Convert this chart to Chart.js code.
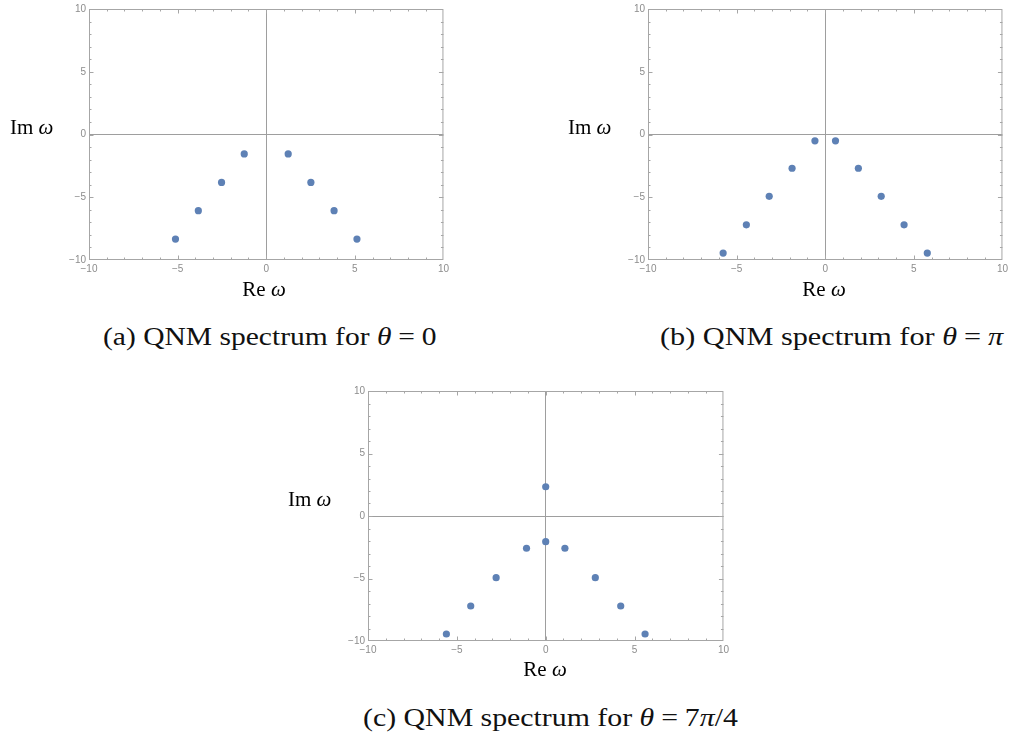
<!DOCTYPE html>
<html>
<head>
<meta charset="utf-8">
<script src="https://cdn.jsdelivr.net/npm/chart.js@4.4.1/dist/chart.umd.min.js"></script>
<style>
  html, body { margin: 0; padding: 0; background: #fff; }
  body { width: 1010px; height: 744px; position: relative; overflow: hidden; }
  .box { position: absolute; }
  .lbl { position: absolute; font-family: "Liberation Serif", serif; font-size: 21px; line-height: 21px; color: #000; white-space: nowrap; }
  .cap { position: absolute; font-family: "Liberation Serif", serif; font-size: 26px; line-height: 26px; color: #111; white-space: nowrap; transform-origin: 0 0; }
  .sp { display: inline-block; width: 6px; }
</style>
</head>
<body>

<div class="box" style="left:49px; top:0px; width:403px; height:280px;"><canvas id="qnmA"></canvas></div>
<div class="box" style="left:608px; top:0px; width:403px; height:280px;"><canvas id="qnmB"></canvas></div>
<div class="box" style="left:328px; top:382px; width:404px; height:279px;"><canvas id="qnmC"></canvas></div>

<div class="lbl" style="left:10px; top:117px;">Im <i>ω</i></div>
<div class="lbl" style="left:214px; top:279px; width:100px; text-align:center;">Re <i>ω</i></div>
<div class="lbl" style="left:568px; top:117px;">Im <i>ω</i></div>
<div class="lbl" style="left:774px; top:279px; width:100px; text-align:center;">Re <i>ω</i></div>
<div class="lbl" style="left:288px; top:489px;">Im <i>ω</i></div>
<div class="lbl" style="left:495px; top:659px; width:100px; text-align:center;">Re <i>ω</i></div>

<div class="cap" data-w="334" style="left:103px; top:324px;">(a) QNM spectrum for <i>θ</i><span class="sp"></span>=<span class="sp"></span>0</div>
<div class="cap" data-w="343" style="left:660px; top:324px;">(b) QNM spectrum for <i>θ</i><span class="sp"></span>=<span class="sp"></span><i>π</i></div>
<div class="cap" data-w="375" style="left:363px; top:705px;">(c) QNM spectrum for <i>θ</i><span class="sp"></span>=<span class="sp"></span>7<i>π</i>/4</div>

<script>
// QNM frequencies (Re ω, Im ω)
const reA = [-5.12, -3.83, -2.52, -1.24, 1.24, 2.52, 3.83, 5.12];
const imA = [-8.33, -6.07, -3.82, -1.55, -1.55, -3.82, -6.07, -8.33];

const reB = [-5.76, -4.45, -3.16, -1.87, -0.58, 0.58, 1.87, 3.16, 4.45, 5.76];
const imB = [-9.45, -7.20, -4.93, -2.69, -0.50, -0.50, -2.69, -4.93, -7.20, -9.45];

const reC = [-5.59, -4.22, -2.79, -1.08, 0, 0, 1.08, 2.79, 4.22, 5.59];
const imC = [-9.44, -7.20, -4.93, -2.58, -2.05, 2.34, -2.58, -4.93, -7.20, -9.44];

const axisMin = -10;
const axisMax = 10;
const majorStep = 5;

const pointColor = '#5e81b5';
const frameColor = '#a6a6a6';
const tickColor = '#8c8c8c';

// mathematica style frame with inward ticks on all four sides
let framePlugin = {
    id: 'frame',
    beforeDatasetsDraw: function (chart) {
        const ctx = chart.ctx;
        const a = chart.chartArea;
        const xs = chart.scales.x, ys = chart.scales.y;
        ctx.save();
        ctx.strokeStyle = frameColor;
        ctx.lineWidth = 1;
        ctx.strokeRect(a.left + 0.5, a.top + 0.5, a.right - a.left - 1, a.bottom - a.top - 1);
        ctx.beginPath();
        for (let v = axisMin + 1; v < axisMax; v++) {
            const len = (v % majorStep === 0) ? 4.5 : 2.5;
            const px = Math.round(xs.getPixelForValue(v)) + 0.5;
            ctx.moveTo(px, a.bottom); ctx.lineTo(px, a.bottom - len);
            ctx.moveTo(px, a.top); ctx.lineTo(px, a.top + len);
            const py = Math.round(ys.getPixelForValue(v)) + 0.5;
            ctx.moveTo(a.left, py); ctx.lineTo(a.left + len, py);
            ctx.moveTo(a.right, py); ctx.lineTo(a.right - len, py);
        }
        ctx.stroke();
        ctx.restore();
    }
};

let tickLabel = function (v) {
    return v < 0 ? '\u2212' + Math.abs(v) : String(v);
};

let zeroLine = function (c) {
    return c.tick && c.tick.value === 0 ? '#9e9e9e' : 'rgba(0,0,0,0)';
};

let makeChart = function (id, re, im) {
    new Chart(document.getElementById(id).getContext('2d'), {
        type: 'scatter',
        data: {
            datasets: [{
                data: re.map((x, i) => ({x: x, y: im[i]})),
                backgroundColor: pointColor,
                borderColor: pointColor,
                borderWidth: 0,
                pointRadius: 3.6
            }]
        },
        options: {
            responsive: true,
            maintainAspectRatio: false,
            animation: false,
            layout: { padding: { top: 7, right: 8, left: 0, bottom: 0 } },
            plugins: {
                legend: { display: false },
                tooltip: { enabled: false }
            },
            scales: {
                x: {
                    type: 'linear',
                    min: axisMin,
                    max: axisMax,
                    border: { display: false },
                    grid: { color: zeroLine, lineWidth: 1, drawTicks: false },
                    ticks: {
                        stepSize: majorStep,
                        padding: 3,
                        color: tickColor,
                        font: { family: 'Liberation Sans', size: 10 },
                        callback: tickLabel
                    },
                    afterFit: function (s) { s.height = 20; }
                },
                y: {
                    type: 'linear',
                    min: axisMin,
                    max: axisMax,
                    border: { display: false },
                    grid: { color: zeroLine, lineWidth: 1, drawTicks: false },
                    ticks: {
                        stepSize: majorStep,
                        padding: 3,
                        color: tickColor,
                        font: { family: 'Liberation Sans', size: 10 },
                        callback: tickLabel
                    },
                    afterFit: function (s) { s.width = 40; }
                }
            }
        },
        plugins: [framePlugin]
    });
};

makeChart('qnmA', reA, imA);
makeChart('qnmB', reB, imB);
makeChart('qnmC', reC, imC);

// stretch the captions to the width they have in the figure
document.querySelectorAll('.cap').forEach(function (el) {
    const w = parseFloat(el.dataset.w);
    el.style.transform = 'scaleX(' + (w / el.offsetWidth).toFixed(3) + ')';
});
</script>
</body>
</html>
